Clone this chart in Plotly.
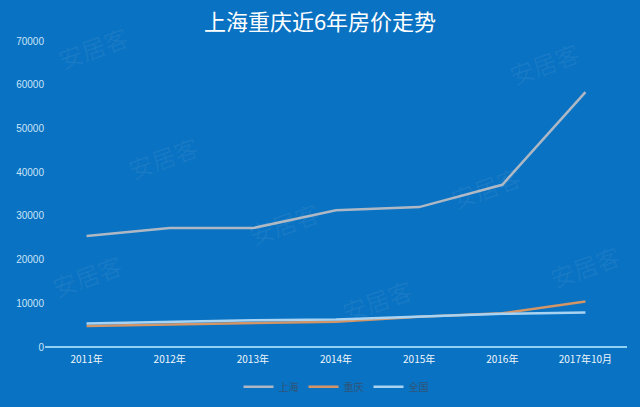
import plotly.graph_objects as go

categories = ["2011年", "2012年", "2013年", "2014年", "2015年", "2016年", "2017年10月"]
shanghai = [25400, 27200, 27200, 31300, 32000, 37100, 58300]
chongqing = [4800, 5100, 5500, 5800, 6900, 7700, 10400]
national = [5400, 5800, 6100, 6300, 6900, 7600, 7900]
series_names = ["上海", "重庆", "全国"]
y_ticks = [0, 10000, 20000, 30000, 40000, 50000, 60000, 70000]
title_text = "上海重庆近6年房价走势"
watermark = "安居客"

BG = "#0A72C2"
fig = go.Figure()
for name, vals, col in zip(series_names, [shanghai, chongqing, national],
                           ["#AEB8C4", "#D39566", "#A9D3F2"]):
    fig.add_trace(go.Scatter(x=categories, y=vals, mode="lines", name=name,
                             line=dict(color=col, width=2.5)))

wm_pos = [(0.13, 0.62), (0.41, 0.30), (0.93, 1.03), (0.83, 0.52), (0.0, 0.13),
          (1.0, 0.16), (0.57, 0.05), (0.01, 1.08)]
annotations = []
for x, y in wm_pos:
    annotations.append(dict(text=watermark, x=x, y=y, xref="paper", yref="paper",
                            showarrow=False, textangle=-20,
                            font=dict(size=24, color="rgba(255,255,255,0.06)",
                                      family="Noto Sans CJK SC")))

fig.update_layout(
    width=640, height=407,
    paper_bgcolor=BG, plot_bgcolor=BG,
    margin=dict(l=45, r=13, t=41, b=60, autoexpand=False),
    title=dict(text=title_text, x=0.5, xanchor="center", y=0.945, yanchor="middle",
               font=dict(size=22, color="white", family="Noto Sans CJK SC")),
    showlegend=True,
    legend=dict(orientation="h", x=0.5, xanchor="center", y=-0.13, yanchor="middle",
                font=dict(size=10, color="#2F5577", family="Noto Sans CJK SC"),
                bgcolor="rgba(0,0,0,0)"),
    xaxis=dict(showgrid=False, zeroline=False, showline=False, automargin=False,
               ticks="outside", ticklen=3, tickcolor="rgba(0,0,0,0)",
               range=[-0.5, 6.5],
               tickfont=dict(size=10, color="#F0F6FC", family="Noto Sans CJK SC")),
    yaxis=dict(range=[0, 70000], tickvals=y_ticks, tickformat="d", showgrid=False,
               automargin=False,
               zeroline=True, zerolinecolor="#8FD0F5", zerolinewidth=1.5,
               showline=False, ticks="", ticksuffix="  ",
               tickfont=dict(size=10, color="#C9E4F8", family="Liberation Sans")),
    annotations=annotations,
    font=dict(family="Noto Sans CJK SC"),
)
fig.write_html("out.html", config={"displayModeBar": False},
               post_script="document.body.style.margin='0';")
